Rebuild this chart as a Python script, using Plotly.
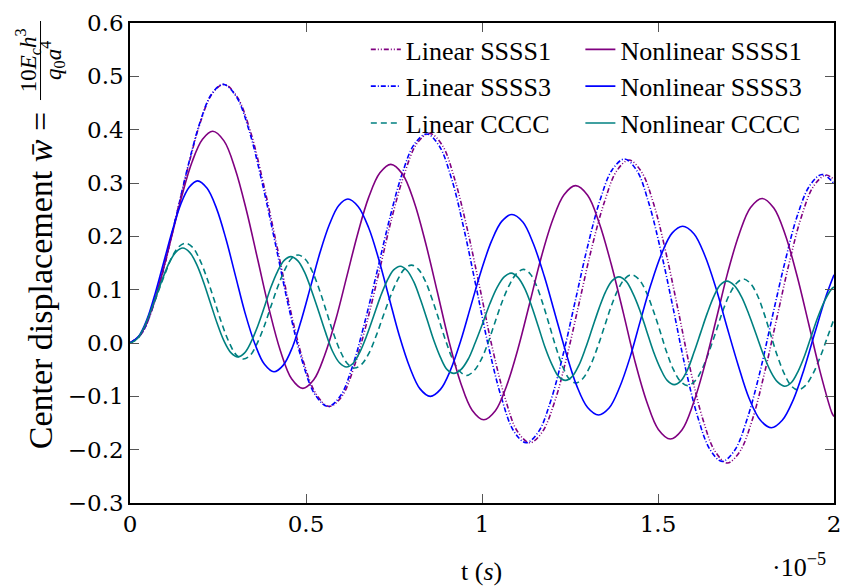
import plotly.graph_objects as go

# time in units of 1e-5 s, center displacement values
t_lin1 = [0, 0.033, 0.067, 0.100, 0.133, 0.167, 0.200, 0.233, 0.267,
          0.304, 0.342, 0.379, 0.417, 0.454, 0.491, 0.529, 0.566,
          0.602, 0.637, 0.673, 0.709, 0.744, 0.780, 0.815, 0.851,
          0.887, 0.922, 0.958, 0.994, 1.029, 1.065, 1.100, 1.136,
          1.171, 1.207, 1.242, 1.277, 1.312, 1.348, 1.383, 1.418,
          1.453, 1.488, 1.523, 1.558, 1.592, 1.627, 1.662, 1.697,
          1.732, 1.767, 1.802, 1.837, 1.872, 1.907, 1.942, 1.977, 2.0]
w_lin1 = [0, 0.018, 0.071, 0.150, 0.243, 0.335, 0.414, 0.467, 0.485,
          0.462, 0.397, 0.299, 0.183, 0.067, -0.031, -0.096, -0.119,
          -0.100, -0.044, 0.039, 0.137, 0.235, 0.318, 0.374, 0.393,
          0.371, 0.308, 0.214, 0.103, -0.008, -0.102, -0.165, -0.187,
          -0.167, -0.109, -0.023, 0.078, 0.179, 0.265, 0.323, 0.343,
          0.321, 0.260, 0.168, 0.059, -0.050, -0.142, -0.203, -0.225,
          -0.204, -0.146, -0.058, 0.045, 0.148, 0.236, 0.294, 0.315, 0.306]

t_lin3 = [0, 0.033, 0.066, 0.099, 0.133, 0.166, 0.199, 0.232, 0.265,
          0.302, 0.339, 0.376, 0.414, 0.451, 0.488, 0.525, 0.562,
          0.597, 0.632, 0.667, 0.703, 0.738, 0.773, 0.808, 0.843,
          0.878, 0.914, 0.949, 0.984, 1.019, 1.055, 1.090, 1.125,
          1.160, 1.195, 1.230, 1.265, 1.300, 1.335, 1.370, 1.405,
          1.440, 1.474, 1.509, 1.544, 1.578, 1.613, 1.648, 1.682,
          1.718, 1.753, 1.789, 1.824, 1.860, 1.895, 1.931, 1.966, 2.0]
w_lin3 = [0, 0.018, 0.071, 0.150, 0.243, 0.335, 0.414, 0.467, 0.485,
          0.462, 0.397, 0.299, 0.183, 0.067, -0.031, -0.096, -0.119,
          -0.100, -0.044, 0.039, 0.137, 0.234, 0.317, 0.373, 0.392,
          0.370, 0.307, 0.213, 0.103, -0.008, -0.102, -0.165, -0.187,
          -0.167, -0.109, -0.023, 0.079, 0.181, 0.267, 0.325, 0.345,
          0.323, 0.262, 0.170, 0.062, -0.047, -0.139, -0.200, -0.222,
          -0.201, -0.143, -0.056, 0.047, 0.150, 0.237, 0.295, 0.316, 0.299]

t_nl1 = [0, 0.029, 0.059, 0.088, 0.118, 0.147, 0.176, 0.206, 0.235,
         0.267, 0.299, 0.331, 0.363, 0.395, 0.427, 0.459, 0.491,
         0.522, 0.553, 0.585, 0.616, 0.647, 0.678, 0.710, 0.741,
         0.774, 0.807, 0.840, 0.873, 0.906, 0.939, 0.972, 1.005,
         1.038, 1.070, 1.103, 1.136, 1.168, 1.201, 1.233, 1.266,
         1.300, 1.333, 1.367, 1.401, 1.434, 1.468, 1.501, 1.535,
         1.568, 1.600, 1.633, 1.666, 1.698, 1.731, 1.763, 1.796,
         1.829, 1.862, 1.895, 1.928, 1.961, 1.994, 2.0]
w_nl1 = [0, 0.015, 0.058, 0.122, 0.199, 0.275, 0.339, 0.382, 0.397,
         0.379, 0.326, 0.248, 0.156, 0.064, -0.014, -0.067, -0.085,
         -0.069, -0.023, 0.045, 0.125, 0.205, 0.273, 0.319, 0.335,
         0.317, 0.265, 0.187, 0.096, 0.004, -0.074, -0.126, -0.144,
         -0.127, -0.080, -0.009, 0.076, 0.160, 0.231, 0.278, 0.295,
         0.277, 0.225, 0.148, 0.058, -0.033, -0.110, -0.162, -0.180,
         -0.163, -0.114, -0.041, 0.046, 0.132, 0.205, 0.254, 0.271,
         0.253, 0.202, 0.126, 0.036, -0.055, -0.131, -0.138]

t_nl3 = [0, 0.024, 0.048, 0.072, 0.096, 0.120, 0.144, 0.168, 0.192,
         0.219, 0.246, 0.273, 0.300, 0.327, 0.355, 0.382, 0.409,
         0.435, 0.462, 0.488, 0.514, 0.540, 0.567, 0.593, 0.619,
         0.648, 0.678, 0.707, 0.736, 0.765, 0.795, 0.824, 0.853,
         0.882, 0.911, 0.940, 0.969, 0.998, 1.027, 1.056, 1.085,
         1.116, 1.146, 1.177, 1.208, 1.239, 1.269, 1.300, 1.331,
         1.361, 1.391, 1.421, 1.450, 1.480, 1.510, 1.540, 1.570,
         1.602, 1.633, 1.665, 1.696, 1.728, 1.759, 1.791, 1.822,
         1.853, 1.884, 1.915, 1.946, 1.978, 2.0]
w_nl3 = [0, 0.012, 0.044, 0.094, 0.152, 0.210, 0.260, 0.292, 0.304,
         0.290, 0.252, 0.194, 0.125, 0.056, -0.002, -0.040, -0.054,
         -0.042, -0.007, 0.046, 0.108, 0.170, 0.223, 0.258, 0.270,
         0.256, 0.216, 0.156, 0.085, 0.014, -0.046, -0.086, -0.100,
         -0.087, -0.050, 0.005, 0.071, 0.136, 0.191, 0.228, 0.241,
         0.227, 0.186, 0.125, 0.053, -0.019, -0.080, -0.121, -0.135,
         -0.122, -0.083, -0.026, 0.042, 0.110, 0.167, 0.206, 0.219,
         0.205, 0.164, 0.102, 0.030, -0.042, -0.104, -0.145, -0.159,
         -0.145, -0.107, -0.049, 0.020, 0.089, 0.128]

t_linc = [0, 0.020, 0.0395, 0.059, 0.079, 0.099, 0.1185, 0.138, 0.158,
          0.1785, 0.199, 0.2195, 0.240, 0.2605, 0.281, 0.3015, 0.322,
          0.3415, 0.361, 0.3805, 0.400, 0.4195, 0.439, 0.4585, 0.478,
          0.498, 0.518, 0.538, 0.558, 0.578, 0.598, 0.618, 0.638,
          0.658, 0.679, 0.699, 0.719, 0.739, 0.760, 0.780, 0.800,
          0.8195, 0.839, 0.8585, 0.878, 0.8975, 0.917, 0.9365, 0.956,
          0.976, 0.997, 1.017, 1.037, 1.057, 1.078, 1.098, 1.118,
          1.1365, 1.155, 1.1735, 1.192, 1.2105, 1.229, 1.2475, 1.266,
          1.286, 1.306, 1.326, 1.346, 1.365, 1.385, 1.405, 1.425,
          1.445, 1.465, 1.485, 1.505, 1.524, 1.544, 1.564, 1.584,
          1.604, 1.624, 1.644, 1.664, 1.683, 1.703, 1.723, 1.743,
          1.762, 1.782, 1.801, 1.820, 1.839, 1.859, 1.878, 1.897,
          1.9185, 1.940, 1.9615, 1.983, 2.0]
w_linc = [0, 0.007, 0.027, 0.058, 0.094, 0.129, 0.160, 0.180, 0.187,
          0.179, 0.155, 0.120, 0.079, 0.037, 0.002, -0.022, -0.030,
          -0.023, -0.001, 0.030, 0.068, 0.105, 0.136, 0.158, 0.165,
          0.157, 0.134, 0.100, 0.059, 0.018, -0.016, -0.039, -0.047,
          -0.040, -0.019, 0.013, 0.050, 0.086, 0.118, 0.139, 0.146,
          0.138, 0.116, 0.082, 0.043, 0.003, -0.031, -0.053, -0.061,
          -0.053, -0.032, 0.000, 0.039, 0.077, 0.109, 0.130, 0.138,
          0.130, 0.107, 0.072, 0.032, -0.009, -0.044, -0.067, -0.075,
          -0.067, -0.045, -0.012, 0.027, 0.065, 0.098, 0.120, 0.128,
          0.120, 0.098, 0.064, 0.024, -0.016, -0.050, -0.072, -0.080,
          -0.072, -0.051, -0.018, 0.020, 0.058, 0.091, 0.112, 0.120,
          0.112, 0.090, 0.056, 0.016, -0.024, -0.058, -0.080, -0.088,
          -0.080, -0.058, -0.025, 0.014, 0.045]

t_nlc = [0, 0.019, 0.0375, 0.056, 0.075, 0.094, 0.1125, 0.131, 0.150,
         0.1695, 0.189, 0.2085, 0.228, 0.2475, 0.267, 0.2865, 0.306,
         0.325, 0.344, 0.363, 0.382, 0.400, 0.419, 0.438, 0.457,
         0.477, 0.4965, 0.516, 0.536, 0.556, 0.575, 0.595, 0.615,
         0.634, 0.653, 0.672, 0.692, 0.711, 0.730, 0.749, 0.768,
         0.787, 0.806, 0.825, 0.844, 0.863, 0.882, 0.901, 0.920,
         0.940, 0.961, 0.981, 1.002, 1.022, 1.042, 1.063, 1.083,
         1.102, 1.1215, 1.141, 1.160, 1.179, 1.1985, 1.218, 1.237,
         1.256, 1.275, 1.294, 1.313, 1.332, 1.351, 1.370, 1.389,
         1.409, 1.428, 1.448, 1.4675, 1.487, 1.507, 1.526, 1.546,
         1.565, 1.584, 1.602, 1.621, 1.640, 1.659, 1.677, 1.696,
         1.7165, 1.737, 1.7575, 1.778, 1.7985, 1.819, 1.8395, 1.860,
         1.879, 1.898, 1.917, 1.936, 1.955, 1.974, 1.993, 2.0]
w_nlc = [0, 0.007, 0.026, 0.055, 0.089, 0.123, 0.152, 0.171, 0.178,
         0.170, 0.148, 0.115, 0.076, 0.037, 0.004, -0.018, -0.026,
         -0.019, 0.002, 0.032, 0.068, 0.104, 0.134, 0.155, 0.162,
         0.154, 0.132, 0.098, 0.059, 0.019, -0.015, -0.037, -0.045,
         -0.038, -0.017, 0.013, 0.050, 0.086, 0.116, 0.137, 0.144,
         0.136, 0.115, 0.082, 0.044, 0.005, -0.027, -0.050, -0.057,
         -0.050, -0.030, 0.001, 0.037, 0.073, 0.103, 0.124, 0.131,
         0.123, 0.102, 0.069, 0.031, -0.008, -0.040, -0.063, -0.070,
         -0.063, -0.042, -0.010, 0.027, 0.064, 0.096, 0.117, 0.124,
         0.116, 0.094, 0.062, 0.023, -0.016, -0.048, -0.070, -0.078,
         -0.071, -0.050, -0.018, 0.019, 0.056, 0.088, 0.109, 0.116,
         0.108, 0.087, 0.055, 0.018, -0.020, -0.052, -0.073, -0.081,
         -0.074, -0.053, -0.023, 0.014, 0.050, 0.080, 0.101, 0.105]

x_tickvals = [0, 0.5, 1, 1.5, 2]
x_ticktext = ["0", "0.5", "1", "1.5", "2"]
y_tickvals = [-0.3, -0.2, -0.1, 0.0, 0.1, 0.2, 0.3, 0.4, 0.5, 0.6]
y_ticktext = ["\u22120.3", "\u22120.2", "\u22120.1", "0.0", "0.1", "0.2", "0.3", "0.4", "0.5", "0.6"]

PURPLE = "#800080"
BLUE = "#0000ff"
TEAL = "#008080"
FONT = "Liberation Serif, DejaVu Serif, Times New Roman, serif"
TICKFONT = "DejaVu Serif, Liberation Serif, serif"

fig = go.Figure()

def add(t, w, name, color, dash, legend):
    fig.add_trace(go.Scatter(
        x=t, y=w, mode="lines", name=name, legend=legend,
        line=dict(color=color, width=1.6, dash=dash, shape="spline", smoothing=1.0),
    ))

add(t_lin1, w_lin1, "Linear SSSS1", PURPLE, "5px,2px,1px,2px,1px,2px", "legend")
add(t_lin3, w_lin3, "Linear SSSS3", BLUE, "5px,2px,1px,2px", "legend")
add(t_linc, w_linc, "Linear CCCC", TEAL, "6px,4px", "legend")
add(t_nl1, w_nl1, "Nonlinear SSSS1", PURPLE, "solid", "legend2")
add(t_nl3, w_nl3, "Nonlinear SSSS3", BLUE, "solid", "legend2")
add(t_nlc, w_nlc, "Nonlinear CCCC", TEAL, "solid", "legend2")

L, R, T, B = 129.5, 841.5, 17, 503
W, H = 852, 586
pw, ph = R - L, B - T

def px(x):
    return (x - L) / pw

def py(y):
    return (B - y) / ph

axis_common = dict(
    showline=True, linecolor="black", linewidth=1.6, mirror="ticks",
    ticks="inside", ticklen=9, tickwidth=1, tickcolor="#555555",
    showgrid=False, zeroline=False,
    tickfont=dict(family=TICKFONT, size=23, color="black"),
)

legend_common = dict(
    bgcolor="rgba(0,0,0,0)", borderwidth=0,
    font=dict(family=FONT, size=26, color="black"),
    xanchor="left", yanchor="top", tracegroupgap=0, itemwidth=30,
)

fig.update_layout(
    width=W, height=H,
    margin=dict(l=L, r=W - R, t=T, b=H - B),
    paper_bgcolor="white", plot_bgcolor="white",
    font=dict(family=FONT, color="black"),
    xaxis=dict(range=[0, 2], tickvals=x_tickvals, ticktext=x_ticktext, **axis_common),
    yaxis=dict(range=[-0.3, 0.6], tickvals=y_tickvals, ticktext=y_ticktext, **axis_common),
    legend=dict(x=px(368), y=py(20), **legend_common),
    legend2=dict(x=px(585), y=py(20), **legend_common),
    showlegend=True,
    annotations=[
        dict(text="t (<i>s</i>)", xref="paper", yref="paper", x=px(485), y=py(572),
             xanchor="center", yanchor="middle", showarrow=False,
             font=dict(family=FONT, size=26, color="black")),
        dict(text="\u00b710<sup>\u22125</sup>", xref="paper", yref="paper", x=px(806), y=py(566),
             xanchor="center", yanchor="middle", showarrow=False,
             font=dict(family=FONT, size=26, color="black")),
        dict(text="Center displacement <i>w\u0304</i> =", xref="paper", yref="paper",
             x=px(39), y=py(278), textangle=-90, xanchor="center", yanchor="middle",
             showarrow=False, font=dict(family=FONT, size=34, color="black")),
        dict(text="10<i>E<sub>c</sub>h</i><sup>3</sup>", xref="paper", yref="paper",
             x=px(26), y=py(55), textangle=-90, xanchor="center", yanchor="middle",
             showarrow=False, font=dict(family=FONT, size=23, color="black")),
        dict(text="<i>q</i><sub>0</sub><i>a</i><sup>4</sup>", xref="paper", yref="paper",
             x=px(51), y=py(55), textangle=-90, xanchor="center", yanchor="middle",
             showarrow=False, font=dict(family=FONT, size=23, color="black")),
    ],
    shapes=[
        dict(type="line", xref="paper", yref="paper", x0=px(39), x1=px(39), y0=py(95), y1=py(15),
             line=dict(color="black", width=1)),
    ],
)

fig.write_html("out.html")
